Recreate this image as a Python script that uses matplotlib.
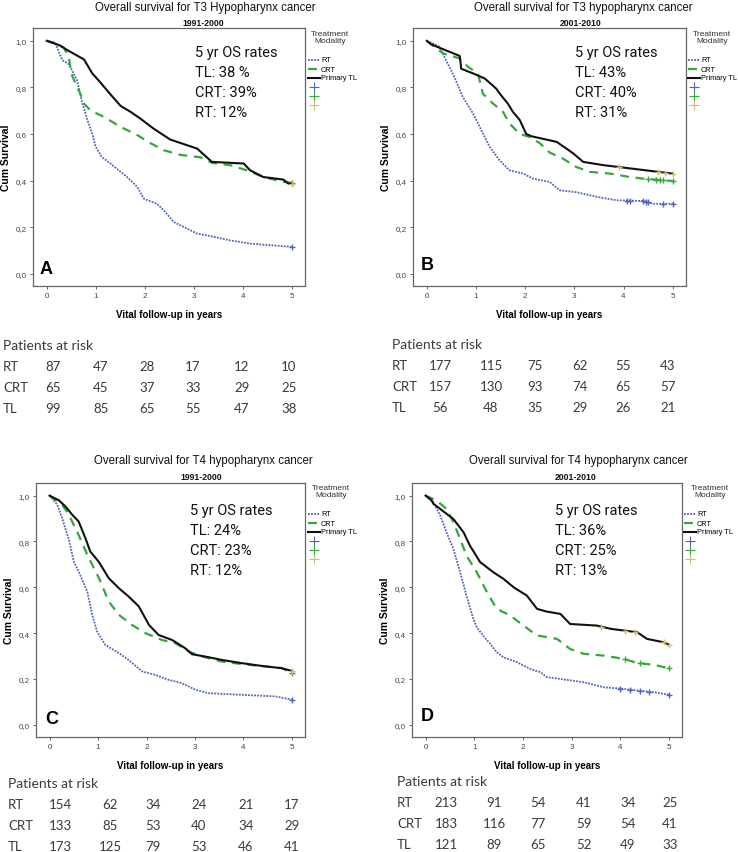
import numpy as np
import matplotlib
matplotlib.use("Agg")
import matplotlib.pyplot as plt
from matplotlib.lines import Line2D

# --- data (time in years, cum survival) ---
a_rt_t = [0, 0.18, 0.25, 0.32, 0.45, 0.62, 0.73, 0.83, 0.93, 1.00, 1.13, 1.30, 1.64, 1.85, 1.98, 2.25, 2.39, 2.59, 3.07, 3.41, 3.74, 4.15, 5.0]
a_rt_s = [1.0, 0.99, 0.95, 0.917, 0.90, 0.83, 0.73, 0.66, 0.60, 0.544, 0.50, 0.473, 0.415, 0.372, 0.322, 0.30, 0.272, 0.222, 0.172, 0.158, 0.143, 0.129, 0.115]
a_crt_t = [0, 0.18, 0.35, 0.45, 0.50, 0.58, 0.69, 0.76, 0.90, 1.17, 1.51, 1.85, 2.12, 2.39, 2.73, 3.13, 3.37, 3.74, 4.08, 4.42, 4.83, 5.0]
a_crt_s = [1.0, 0.99, 0.97, 0.93, 0.86, 0.82, 0.77, 0.73, 0.70, 0.673, 0.63, 0.595, 0.56, 0.53, 0.51, 0.50, 0.476, 0.466, 0.444, 0.415, 0.394, 0.39]
a_tl_t = [0, 0.27, 0.42, 0.76, 0.93, 1.10, 1.30, 1.51, 1.71, 1.91, 2.18, 2.52, 3.07, 3.37, 4.02, 4.15, 4.42, 4.83, 4.93, 5.0]
a_tl_s = [1.0, 0.98, 0.96, 0.92, 0.86, 0.82, 0.77, 0.72, 0.695, 0.666, 0.623, 0.576, 0.537, 0.48, 0.473, 0.444, 0.415, 0.404, 0.387, 0.387]

b_rt_t = [0, 0.12, 0.26, 0.39, 0.56, 0.73, 0.94, 1.11, 1.28, 1.48, 1.68, 1.96, 2.16, 2.50, 2.70, 3.04, 3.45, 3.86, 4.40, 4.61, 5.0]
b_rt_s = [1.0, 0.99, 0.974, 0.917, 0.845, 0.76, 0.688, 0.616, 0.544, 0.487, 0.444, 0.43, 0.408, 0.394, 0.358, 0.35, 0.33, 0.315, 0.312, 0.30, 0.30]
b_crt_t = [0, 0.12, 0.33, 0.67, 0.84, 1.04, 1.14, 1.35, 1.55, 1.68, 1.89, 2.09, 2.30, 2.50, 2.77, 3.04, 3.32, 3.72, 4.13, 4.40, 4.98, 5.0]
b_crt_s = [1.0, 0.98, 0.946, 0.924, 0.888, 0.86, 0.773, 0.73, 0.695, 0.645, 0.60, 0.587, 0.56, 0.52, 0.494, 0.458, 0.437, 0.43, 0.415, 0.408, 0.398, 0.398]
b_tl_t = [0, 0.09, 0.26, 0.67, 0.70, 0.94, 1.18, 1.41, 1.51, 1.65, 1.75, 1.89, 2.02, 2.13, 2.64, 2.84, 2.98, 3.18, 3.59, 4.33, 4.98, 5.0]
b_tl_s = [1.0, 0.985, 0.97, 0.935, 0.88, 0.86, 0.838, 0.795, 0.766, 0.73, 0.695, 0.66, 0.60, 0.59, 0.566, 0.537, 0.516, 0.48, 0.466, 0.447, 0.43, 0.43]

c_rt_t = [0, 0.16, 0.26, 0.40, 0.50, 0.60, 0.78, 0.88, 0.98, 1.15, 1.43, 1.63, 1.91, 2.18, 2.46, 2.73, 3.01, 3.28, 3.97, 4.66, 5.0]
c_rt_s = [1.0, 0.96, 0.90, 0.807, 0.712, 0.669, 0.58, 0.48, 0.407, 0.349, 0.313, 0.283, 0.233, 0.218, 0.196, 0.182, 0.153, 0.138, 0.131, 0.124, 0.11]
c_crt_t = [0, 0.26, 0.40, 0.60, 0.81, 1.02, 1.22, 1.43, 1.70, 1.98, 2.32, 2.60, 2.87, 3.15, 3.56, 3.97, 4.38, 4.79, 5.0]
c_crt_s = [1.0, 0.96, 0.916, 0.828, 0.727, 0.64, 0.538, 0.48, 0.436, 0.40, 0.37, 0.356, 0.32, 0.298, 0.276, 0.265, 0.256, 0.248, 0.225]
c_tl_t = [0, 0.09, 0.19, 0.33, 0.47, 0.60, 0.74, 0.84, 1.02, 1.22, 1.43, 1.63, 1.84, 2.05, 2.25, 2.53, 2.80, 2.94, 3.21, 3.56, 3.97, 4.38, 4.79, 5.0]
c_tl_s = [1.0, 0.99, 0.98, 0.952, 0.916, 0.887, 0.814, 0.756, 0.71, 0.64, 0.596, 0.56, 0.517, 0.436, 0.392, 0.37, 0.334, 0.308, 0.298, 0.283, 0.269, 0.257, 0.247, 0.235]

d_rt_t = [0, 0.16, 0.30, 0.43, 0.57, 0.71, 0.84, 0.98, 1.05, 1.22, 1.33, 1.46, 1.60, 1.88, 2.15, 2.36, 2.49, 2.84, 3.25, 3.66, 4.07, 4.35, 4.69, 5.0]
d_rt_s = [1.0, 0.971, 0.913, 0.84, 0.768, 0.666, 0.564, 0.462, 0.426, 0.379, 0.353, 0.317, 0.295, 0.273, 0.244, 0.23, 0.208, 0.198, 0.186, 0.164, 0.157, 0.15, 0.143, 0.131]
d_crt_t = [0, 0.23, 0.43, 0.57, 0.71, 0.84, 1.05, 1.26, 1.46, 1.74, 2.01, 2.29, 2.70, 2.97, 3.25, 3.66, 4.07, 4.35, 4.69, 5.0]
d_crt_s = [1.0, 0.978, 0.942, 0.884, 0.811, 0.738, 0.666, 0.579, 0.506, 0.477, 0.433, 0.39, 0.375, 0.331, 0.31, 0.302, 0.288, 0.27, 0.262, 0.247]
d_tl_t = [0, 0.12, 0.16, 0.30, 0.57, 0.78, 0.91, 1.12, 1.39, 1.60, 1.81, 2.08, 2.29, 2.49, 2.77, 2.97, 3.52, 3.80, 4.35, 4.55, 4.90, 5.0]
d_tl_s = [1.0, 0.98, 0.964, 0.942, 0.898, 0.84, 0.782, 0.71, 0.666, 0.637, 0.60, 0.564, 0.506, 0.494, 0.484, 0.44, 0.433, 0.419, 0.404, 0.375, 0.36, 0.35]

# censor marks (times) besides the one at 5 years
b_rt_cens = [4.07, 4.13, 4.40, 4.45, 4.50, 4.80]
b_crt_cens = [4.50, 4.65, 4.75, 4.80]
b_tl_cens = [3.90, 4.70, 4.85]
d_rt_cens = [4.00, 4.20, 4.40, 4.60]
d_crt_cens = [4.10, 4.40]
d_tl_cens = [3.60, 4.10, 4.30, 4.90]

titles = ["Overall survival for T3 Hypopharynx cancer", "Overall survival for T3 hypopharynx cancer",
          "Overall survival for T4 hypopharynx cancer", "Overall survival for T4 hypopharynx cancer"]
periods = ["1991-2000", "2001-2010", "1991-2000", "2001-2010"]
letters = ["A", "B", "C", "D"]
os_tl = ["38 %", "43%", "24%", "36%"]
os_crt = ["39%", "40%", "23%", "25%"]
os_rt = ["12%", "31%", "12%", "13%"]

risk_groups = ["RT", "CRT", "TL"]
a_risk = [[87, 47, 28, 17, 12, 10], [65, 45, 37, 33, 29, 25], [99, 85, 65, 55, 47, 38]]
b_risk = [[177, 115, 75, 62, 55, 43], [157, 130, 93, 74, 65, 57], [56, 48, 35, 29, 26, 21]]
c_risk = [[154, 62, 34, 24, 21, 17], [133, 85, 53, 40, 34, 29], [173, 125, 79, 53, 46, 41]]
d_risk = [[213, 91, 54, 41, 34, 25], [183, 116, 77, 59, 54, 41], [121, 89, 65, 52, 49, 33]]

RT_C = "#5062c4"
CRT_C = "#35a83a"
TL_C = "#111111"
TL_CENS = "#cdbd78"

W, H = 738, 853
fig = plt.figure(figsize=(W / 100, H / 100), dpi=100)
fig.patch.set_facecolor("white")


def fx(x):
    return x / W


def fy(y):
    return 1 - y / H


# pixel layout of each panel: axes box, legend, OS text, risk table
panels = [
    dict(box=(33, 29, 305, 287), title_x=205, title_y=8, sub_y=24, leg_x=308, leg_tx=330, leg_y=38,
         os_x=195, os_y=53, let=(40, 270), tab_x=3, tab_y=346, col_x=[53, 101, 147, 193, 242, 289],
         data=(a_rt_t, a_rt_s, a_crt_t, a_crt_s, a_tl_t, a_tl_s), cens=([], [], []), risk=a_risk),
    dict(box=(413, 29, 686, 287), title_x=583, title_y=8, sub_y=24, leg_x=688, leg_tx=712, leg_y=38,
         os_x=575, os_y=53, let=(421, 266), tab_x=392, tab_y=345, col_x=[440, 491, 535, 580, 623, 668],
         data=(b_rt_t, b_rt_s, b_crt_t, b_crt_s, b_tl_t, b_tl_s), cens=(b_rt_cens, b_crt_cens, b_tl_cens), risk=b_risk),
    dict(box=(36, 484, 305, 738), title_x=203, title_y=461, sub_y=478, leg_x=308, leg_tx=331, leg_y=492,
         os_x=190, os_y=511, let=(45, 720), tab_x=8, tab_y=784, col_x=[60, 110, 153, 199, 246, 292],
         data=(c_rt_t, c_rt_s, c_crt_t, c_crt_s, c_tl_t, c_tl_s), cens=([], [], []), risk=c_risk),
    dict(box=(412, 484, 682, 738), title_x=578, title_y=461, sub_y=478, leg_x=684, leg_tx=710, leg_y=492,
         os_x=555, os_y=511, let=(421, 717), tab_x=397, tab_y=782, col_x=[446, 494, 538, 584, 628, 670],
         data=(d_rt_t, d_rt_s, d_crt_t, d_crt_s, d_tl_t, d_tl_s), cens=(d_rt_cens, d_crt_cens, d_tl_cens), risk=d_risk),
]

styles = [dict(color=RT_C, ls=(0, (1, 0.7)), lw=1.3),
          dict(color=CRT_C, ls=(0, (4, 3)), lw=1.6),
          dict(color=TL_C, ls="-", lw=1.5)]
cens_cols = [RT_C, CRT_C, TL_CENS]

for k, p in enumerate(panels):
    x0, y0, x1, y1 = p["box"]
    ax = fig.add_axes([fx(x0), fy(y1), (x1 - x0) / W, (y1 - y0) / H])
    ax.set_xlim(-0.28, 5.27)
    ax.set_ylim(-0.053, 1.055)
    d = p["data"]
    for j in range(3):
        ts, ss = d[2 * j], d[2 * j + 1]
        ax.plot(ts, ss, **styles[j])
        ct = list(p["cens"][j]) + [5.0]
        cy = [np.interp(t, ts, ss) for t in ct]
        ax.plot(ct, cy, ls="none", marker="+", ms=5, mew=1.0, color=cens_cols[j])
    ax.set_xticks([0, 1, 2, 3, 4, 5])
    ax.set_yticks([0, 0.2, 0.4, 0.6, 0.8, 1.0])
    ax.set_yticklabels(["0,0", "0,2", "0,4", "0,6", "0,8", "1,0"])
    ax.tick_params(labelsize=5.8, labelcolor="#444444", color="#666666", length=2.5, width=0.7, pad=2)
    for lab in ax.get_xticklabels() + ax.get_yticklabels():
        lab.set_family("Liberation Sans")
    for s in ax.spines.values():
        s.set_color("#666666")
        s.set_linewidth(0.9)
    ax.set_ylabel("Cum Survival", fontsize=7.5, fontweight="bold", family="Liberation Sans", labelpad=3)
    ax.set_xlabel("Vital follow-up in years", fontsize=7, fontweight="bold", family="Liberation Sans", labelpad=7)

    # titles
    fig.text(fx(p["title_x"]), fy(p["title_y"]), titles[k], ha="center", va="center",
             fontsize=8.3, family="Liberation Sans", color="#111111")
    fig.text(fx(p["title_x"] - 2), fy(p["sub_y"]), periods[k], ha="center", va="center",
             fontsize=6.2, fontweight="bold", family="Liberation Sans", color="#111111")

    # panel letter
    fig.text(fx(p["let"][0]), fy(p["let"][1]), letters[k], ha="left", va="center",
             fontsize=13, fontweight="bold", family="Liberation Sans")

    # 5 yr OS rates callout
    os_lines = ["5 yr OS rates", "TL: " + os_tl[k], "CRT: " + os_crt[k], "RT: " + os_rt[k]]
    for i, line in enumerate(os_lines):
        fig.text(fx(p["os_x"]), fy(p["os_y"] + 20 * i), line, ha="left", va="center",
                 fontsize=10.5, family="Roboto", color="#111111")

    # legend (Treatment Modality)
    fig.text(fx(p["leg_tx"]), fy(p["leg_y"]), "Treatment\nModality", ha="center", va="center",
             fontsize=6, family="Liberation Sans", color="#333333", linespacing=1.0)
    lx = p["leg_x"]
    for i, lab in enumerate(["RT", "CRT", "Primary TL"]):
        yy = fy(p["leg_y"] + 23 + 9 * i)
        fig.add_artist(Line2D([fx(lx), fx(lx + 12)], [yy, yy], transform=fig.transFigure, **styles[i]))
        fig.text(fx(lx + 13), yy, lab, ha="left", va="center", fontsize=5.3, family="Liberation Sans")
    for i in range(3):
        yy = fy(p["leg_y"] + 50 + 9 * i)
        fig.add_artist(Line2D([fx(lx + 6)], [yy], transform=fig.transFigure, ls="none",
                              marker="+", ms=7, mew=0.8, color=cens_cols[i]))

    # patients at risk table
    fig.text(fx(p["tab_x"]), fy(p["tab_y"]), "Patients at risk", ha="left", va="center",
             fontsize=10, family="Lato", color="#3a3a3a")
    for r, grp in enumerate(risk_groups):
        yy = fy(p["tab_y"] + 21 + 21 * r)
        fig.text(fx(p["tab_x"]), yy, grp, ha="left", va="center", fontsize=9.5, family="Lato", color="#3a3a3a")
        for c, val in enumerate(p["risk"][r]):
            fig.text(fx(p["col_x"][c]), yy, str(val), ha="center", va="center",
                     fontsize=9.5, family="Lato", color="#3a3a3a")

fig.savefig("out.png", dpi=100, facecolor="white")
